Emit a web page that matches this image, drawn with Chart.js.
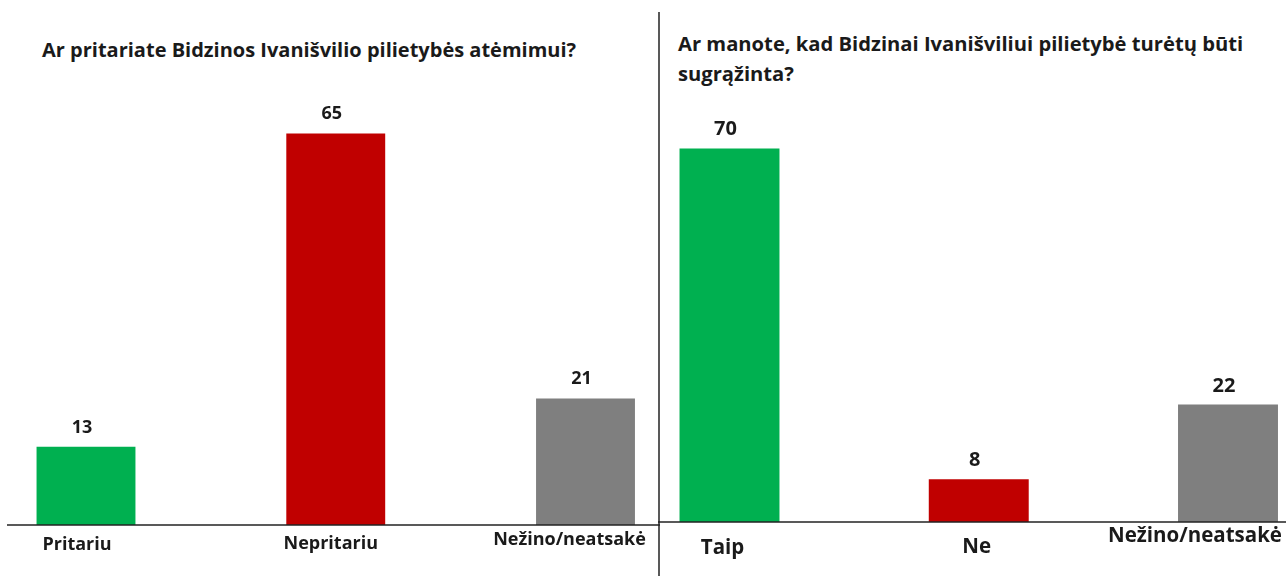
<!DOCTYPE html>
<html>
<head>
<meta charset="utf-8">
<script src="https://cdn.jsdelivr.net/npm/chart.js@4"></script>
<style>
  html, body { margin: 0; padding: 0; background: #fff; }
  body { width: 1286px; height: 576px; position: relative; overflow: hidden; font-family: "Open Sans", sans-serif; }
  .title { position: absolute; font-weight: 700; color: #1a1a1a; white-space: nowrap; }
  #titleLeft { left: 42px; top: 36px; font-size: 20px; line-height: 27px; }
  #titleRight { left: 678px; top: 28px; font-size: 20.2px; line-height: 30px; }
  #leftWrap { position: absolute; left: 0; top: 0; width: 660px; height: 576px; }
  #rightWrap { position: absolute; left: 658px; top: 0; width: 628px; height: 576px; }
</style>
</head>
<body>
<div class="title" id="titleLeft">Ar pritariate Bidzinos Ivanišvilio pilietybės atėmimui?</div>
<div class="title" id="titleRight">Ar manote, kad Bidzinai Ivanišviliui pilietybė turėtų būti<br>sugrąžinta?</div>
<div id="leftWrap"><canvas id="leftChart"></canvas></div>
<div id="rightWrap"><canvas id="rightChart"></canvas></div>
<script>
// duomenys
const leftCategories = ['Pritariu', 'Nepritariu', 'Nežino/neatsakė'];
const leftValues = [13, 65, 21];
const rightCategories = ['Taip', 'Ne', 'Nežino/neatsakė'];
const rightValues = [70, 8, 22];
const barColors = ['#00B050', '#C00000', '#7F7F7F'];

const textColor = '#1a1a1a';

// užrašai virš stulpelių, kategorijų pavadinimai ir pagrindo linija
function makeLabelPlugin(cfg) {
    return {
        id: 'labels',
        afterDatasetsDraw(chart) {
            const ctx = chart.ctx;
            const xs = chart.scales.x;
            const ys = chart.scales.y;
            const y0 = ys.getPixelForValue(0);

            ctx.save();
            // pagrindo linija
            ctx.strokeStyle = '#222';
            ctx.lineWidth = 1.5;
            ctx.beginPath();
            ctx.moveTo(cfg.lineStart, y0);
            ctx.lineTo(chart.width, y0);
            ctx.stroke();

            if (cfg.divider) {
                ctx.lineWidth = 1.5;
                ctx.beginPath();
                ctx.moveTo(1, 12);
                ctx.lineTo(1, chart.height);
                ctx.stroke();
            }

            ctx.fillStyle = textColor;
            ctx.textAlign = 'center';
            ctx.textBaseline = 'alphabetic';

            // reikšmės
            ctx.font = `bold ${cfg.valueSize}px "Open Sans"`;
            chart.getDatasetMeta(0).data.forEach((bar, i) => {
                const v = chart.data.datasets[0].data[i];
                ctx.fillText(String(v), bar.x - 4, bar.y - cfg.valueGap);
            });

            // kategorijos
            ctx.font = `bold ${cfg.labelSize}px "Open Sans"`;
            chart.data.labels.forEach((lab, i) => {
                const x = xs.getPixelForValue(i) + cfg.labelShift[i];
                ctx.fillText(lab, x, y0 + cfg.labelDrop[i]);
            });
            ctx.restore();
        }
    };
}

function makeChart(id, labels, values, opts) {
    return new Chart(document.getElementById(id), {
        type: 'bar',
        data: {
            labels: labels,
            datasets: [{
                data: values,
                backgroundColor: barColors,
                borderWidth: 0,
                barPercentage: opts.barPct,
                categoryPercentage: 1,
                clip: false
            }]
        },
        options: {
            responsive: true,
            maintainAspectRatio: false,
            animation: false,
            events: [],
            layout: { padding: opts.padding },
            plugins: {
                legend: { display: false },
                tooltip: { enabled: false }
            },
            scales: {
                x: { display: false, offset: false },
                y: { display: false, min: 0, max: 80 }
            }
        },
        plugins: [makeLabelPlugin(opts.labels)]
    });
}

makeChart('leftChart', leftCategories, leftValues, {
    barPct: 0.396,
    padding: { left: 86, right: 74.5, top: 43, bottom: 51 },
    labels: {
        lineStart: 7, divider: false,
        valueSize: 18, valueGap: 14,
        labelSize: 18, labelShift: [-9, -5, -16], labelDrop: [25, 24, 20]
    }
});

makeChart('rightChart', rightCategories, rightValues, {
    barPct: 0.401,
    padding: { left: 71.5, right: 58, top: 95, bottom: 54 },
    labels: {
        lineStart: 0, divider: true,
        valueSize: 20, valueGap: 13,
        labelSize: 20.5, labelShift: [-7, -2, -33], labelDrop: [32, 31, 20]
    }
});
</script>
</body>
</html>
